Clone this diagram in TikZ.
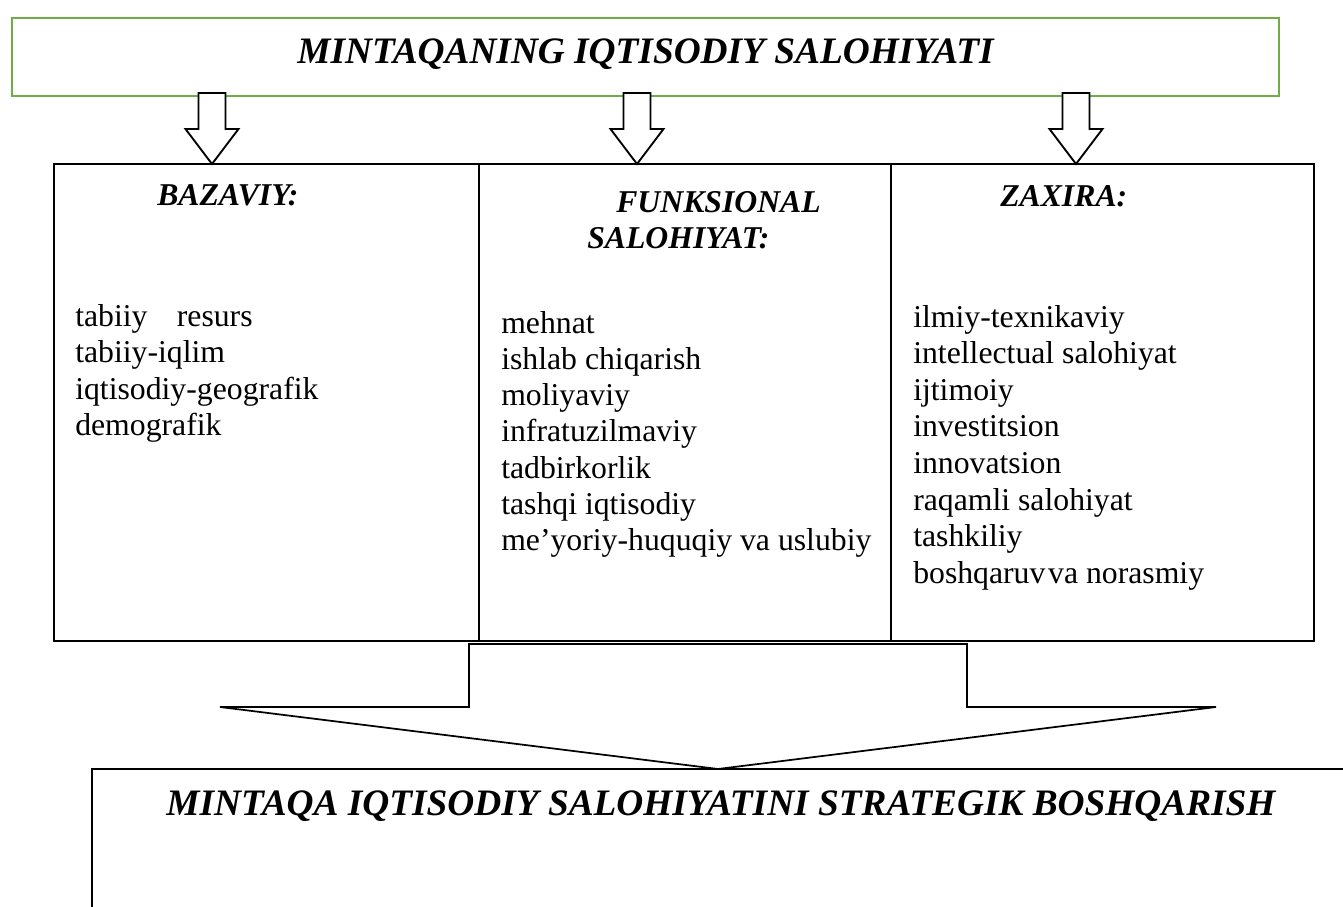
\documentclass[tikz,border=0pt]{standalone}
\usepackage{fontspec}
\setmainfont{Liberation Serif}
\definecolor{boxgreen}{RGB}{112,173,71}
\newcommand\blockarrow[1]{%
  \draw[blockarrow] (#1-13.5,93) -- (#1+13.5,93) -- (#1+13.5,129) -- (#1+26.5,129)
    -- (#1,164) -- (#1-26.5,129) -- (#1-13.5,129) -- cycle;}
\begin{document}
\begin{tikzpicture}
[x=0.75pt, y=-0.75pt]
\tikzstyle{title}=[font=\fontsize{28}{34}\selectfont\bfseries\itshape, inner sep=0, anchor=base]
\tikzstyle{head}=[font=\fontsize{23.8}{27}\selectfont\bfseries\itshape, inner sep=0, anchor=base west]
\tikzstyle{item}=[font=\fontsize{23.8}{27}\selectfont, inner sep=0, anchor=base west]
\tikzstyle{blockarrow}=[draw=black, fill=white, line width=1.4pt, line join=miter]
\tikzstyle{frame}=[draw=black, line width=2pt]
\useasboundingbox (0,0) rectangle (1343,907);

% top box
\draw[boxgreen, line width=2.2pt] (12,18) rectangle (1279,96);
\node[title] (pot) at (645.5,63) {MINTAQANING IQTISODIY SALOHIYATI};

\blockarrow{212}
\blockarrow{637}
\blockarrow{1076}

% three columns
\draw[frame] (54,164) rectangle (1314,641);
\draw[frame] (479,164) -- (479,641);
\draw[frame] (891,164) -- (891,641);

\node[head] (bazhead)  at (157,205) {BAZAVIY:};
\node[head] (funchead) at (616,212) {FUNKSIONAL};
\node[head] (funcsub)  at (587,248) {SALOHIYAT:};
\node[head] (reshead)  at (1000,206) {ZAXIRA:};

\foreach \t [count=\i from 0] in {tabiiy\hspace{22pt}resurs, tabiiy-iqlim,
    iqtisodiy-geografik, demografik}
  \node[item] (baz\i) at (75,326+36.5*\i) {\t};

\foreach \t [count=\i from 0] in {mehnat, ishlab chiqarish, moliyaviy,
    infratuzilmaviy, tadbirkorlik, tashqi iqtisodiy, me’yoriy-huquqiy va uslubiy}
  \node[item] (func\i) at (501,333+36.3*\i) {\t};

\foreach \t [count=\i from 0] in {ilmiy-texnikaviy, intellectual salohiyat, ijtimoiy,
    investitsion, innovatsion, raqamli salohiyat, tashkiliy, boshqaruv\kern2pt va norasmiy}
  \node[item] (res\i) at (913,327+36.6*\i) {\t};

% big arrow
\draw[blockarrow, line width=1.3pt] (469,644) -- (967,644) -- (967,707) -- (1216,707)
  -- (718,769) -- (220,707) -- (469,707) -- cycle;

% bottom box
\draw[frame] (1343,769) -- (92,769) -- (92,907);
\node[title] (strat) at (721,815) {MINTAQA IQTISODIY SALOHIYATINI STRATEGIK BOSHQARISH};
\end{tikzpicture}
\end{document}
